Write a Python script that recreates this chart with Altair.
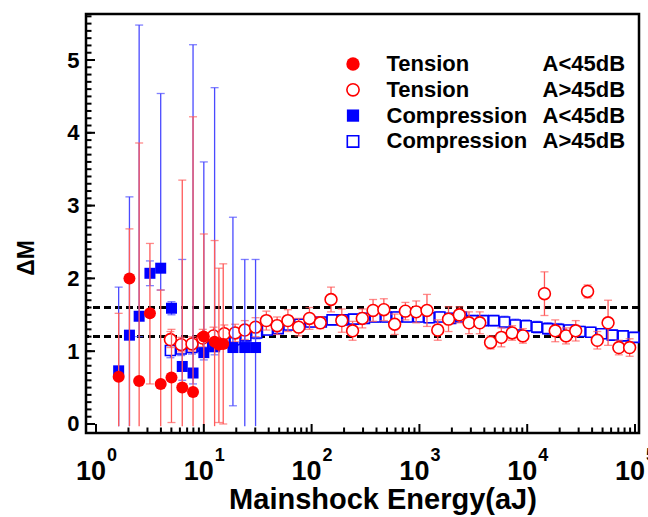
import altair as alt
import pandas as pd
import numpy as np

FONT = "Liberation Sans"

# ---------------- data (log10 of mainshock energy in aJ, Delta M) ----------------
# Tension, A<45dB (filled red circles); lo/hi = error bar ends
tl_logE = [0.21, 0.31, 0.40, 0.50, 0.60, 0.70, 0.80, 0.90, 1.00, 1.10, 1.14, 1.18]
tl_M    = [0.65, 2.00, 0.59, 1.52, 0.55, 0.64, 0.50, 0.44, 1.20, 1.13, 1.09, 1.10]
tl_lo   = [-0.03, -0.03, -0.03, 0.55, -0.03, 0.02, -0.03, -0.03, -0.03, -0.03, 0.02, 0.00]
tl_hi   = [1.52, 2.68, 3.86, 2.48, 1.84, 1.30, 3.35, 4.22, 2.61, 2.52, 2.14, 2.20]

# Compression, A<45dB (filled blue squares)
cl_logE = [0.21, 0.31, 0.40, 0.50, 0.60, 0.70, 0.80, 0.90, 1.00, 1.10, 1.27, 1.38, 1.48]
cl_M    = [0.73, 1.22, 1.48, 2.07, 2.14, 1.59, 0.79, 0.70, 0.98, 1.06, 1.05, 1.05, 1.05]
cl_lo   = [-0.03, -0.03, 1.20, 1.90, 1.84, 1.50, 0.60, 0.55, 0.88, 0.95, 0.25, -0.03, -0.03]
cl_hi   = [1.88, 3.12, 5.48, 2.24, 4.54, 1.68, 2.26, 5.21, 3.60, 4.62, 2.84, 2.26, 2.26]

# Tension, A>45dB (open red circles); err = half length of error bar
th_logE = [0.69, 0.79, 0.89, 0.99, 1.09, 1.19, 1.29, 1.38, 1.48, 1.58, 1.68, 1.78,
           1.88, 1.98, 2.08, 2.18, 2.28, 2.38, 2.47, 2.57, 2.67, 2.77, 2.87, 2.97,
           3.07, 3.17, 3.27, 3.37, 3.46, 3.56, 3.66, 3.76, 3.86, 3.96, 4.16, 4.26,
           4.36, 4.45, 4.56, 4.65, 4.75, 4.85, 4.95]
th_M    = [1.16, 1.09, 1.10, 1.18, 1.21, 1.24, 1.25, 1.29, 1.33, 1.42, 1.35, 1.42,
           1.33, 1.45, 1.39, 1.71, 1.42, 1.28, 1.45, 1.56, 1.57, 1.37, 1.55, 1.54,
           1.56, 1.29, 1.44, 1.50, 1.39, 1.39, 1.12, 1.19, 1.25, 1.21, 1.79, 1.28,
           1.21, 1.28, 1.82, 1.15, 1.39, 1.05, 1.05]
th_err  = [0.11, 0.10, 0.10, 0.12, 0.12, 0.12, 0.12, 0.13, 0.13, 0.13, 0.12, 0.15,
           0.12, 0.15, 0.08, 0.17, 0.16, 0.13, 0.13, 0.15, 0.15, 0.14, 0.12, 0.15,
           0.22, 0.14, 0.17, 0.11, 0.15, 0.15, 0.09, 0.13, 0.10, 0.10, 0.30, 0.15,
           0.11, 0.14, 0.09, 0.12, 0.31, 0.10, 0.12]

# Compression, A>45dB (open blue squares)
ch_logE = [0.69, 0.79, 0.89, 0.99, 1.09, 1.19, 1.29, 1.39, 1.49, 1.59, 1.69, 1.79,
           1.89, 1.99, 2.09, 2.19, 2.29, 2.39, 2.49, 2.59, 2.69, 2.79, 2.89, 2.99,
           3.09, 3.19, 3.29, 3.39, 3.49, 3.59, 3.69, 3.79, 3.89, 3.99, 4.09, 4.19,
           4.29, 4.39, 4.49, 4.59, 4.69, 4.79, 4.89, 4.99]
ch_M    = [1.01, 1.03, 1.05, 1.07, 1.10, 1.13, 1.16, 1.21, 1.25, 1.29, 1.31, 1.36,
           1.37, 1.40, 1.40, 1.43, 1.43, 1.44, 1.45, 1.47, 1.47, 1.47, 1.47, 1.47,
           1.46, 1.47, 1.45, 1.47, 1.42, 1.42, 1.42, 1.40, 1.36, 1.35, 1.33, 1.31,
           1.30, 1.29, 1.27, 1.26, 1.24, 1.22, 1.21, 1.19]
ch_err  = [0.10, 0.09, 0.09, 0.09, 0.08, 0.08, 0.08, 0.08, 0.08, 0.07, 0.07, 0.07,
           0.07, 0.07, 0.07, 0.07, 0.07, 0.07, 0.07, 0.07, 0.07, 0.07, 0.07, 0.07,
           0.07, 0.07, 0.07, 0.07, 0.07, 0.07, 0.07, 0.08, 0.08, 0.08, 0.08, 0.08,
           0.08, 0.07, 0.07, 0.07, 0.07, 0.07, 0.07, 0.07]

ref_lines = [1.2, 1.6]
x_label_exp = [0, 1, 2, 3, 4, 5]
y_ticks_major = [0, 1, 2, 3, 4, 5]

legend_names = ["Tension", "Tension", "Compression", "Compression"]
legend_amp = ["A<45dB", "A>45dB", "A<45dB", "A>45dB"]

# ---------------- frames ----------------
def df_lohi(logE, M, lo, hi):
    return pd.DataFrame({"E": np.power(10.0, logE), "M": M, "lo": lo, "hi": hi})

def df_err(logE, M, err):
    M = np.array(M); err = np.array(err)
    return pd.DataFrame({"E": np.power(10.0, logE), "M": M, "lo": M - err, "hi": M + err})

tl = df_lohi(tl_logE, tl_M, tl_lo, tl_hi)
cl = df_lohi(cl_logE, cl_M, cl_lo, cl_hi)
th = df_err(th_logE, th_M, th_err)
ch = df_err(ch_logE, ch_M, ch_err)

def caps(df):
    up = pd.DataFrame({"E": df["E"], "c": df["hi"]})
    dn = pd.DataFrame({"E": df["E"], "c": df["lo"]})
    dn = dn[dn["c"] >= 0]
    return pd.concat([up, dn], ignore_index=True)

W, H = 553, 419
xs = alt.Scale(type="log", domain=[10 ** -0.093, 10 ** 5.037], nice=False)
ys = alt.Scale(domain=[-0.124, 5.632], nice=False, zero=False)

X = alt.X("E:Q", scale=xs, axis=None)
Y = alt.Y("M:Q", scale=ys,
          axis=alt.Axis(values=y_ticks_major, format="d", domain=False, ticks=False, grid=False,
                        labelFont=FONT, labelFontSize=22, labelFontWeight="bold",
                        labelColor="black", labelPadding=7, title=None))

def errbars(df, color):
    rule = alt.Chart(df).mark_rule(color=color, strokeWidth=1.3).encode(
        x=alt.X("E:Q", scale=xs, axis=None), y=alt.Y("lo:Q", scale=ys), y2="hi:Q")
    cap = alt.Chart(caps(df)).mark_tick(orient="horizontal", color=color, size=8,
                                        thickness=1.3).encode(
        x=alt.X("E:Q", scale=xs, axis=None), y=alt.Y("c:Q", scale=ys))
    return rule + cap

RED_E = "#ff5a5a"
BLUE_E = "#4a4aff"

base = alt.Chart(pd.DataFrame({"M": [0.0]})).mark_point(opacity=0).encode(
    x=alt.value(0), y=Y)

ch_pts = alt.Chart(ch).mark_point(shape="square", size=100, fill="white", fillOpacity=1,
                                  stroke="#0000ff", strokeWidth=1.6, opacity=1).encode(x=X, y=alt.Y("M:Q", scale=ys))
th_pts = alt.Chart(th).mark_point(shape="circle", size=140, fill="white", fillOpacity=1,
                                  stroke="#ff0000", strokeWidth=1.6, opacity=1).encode(x=X, y=alt.Y("M:Q", scale=ys))
cl_pts = alt.Chart(cl).mark_point(shape="square", size=121, filled=True, color="#0000ff",
                                  opacity=1).encode(x=X, y=alt.Y("M:Q", scale=ys))
tl_pts = alt.Chart(tl).mark_point(shape="circle", size=144, filled=True, color="#ff0000",
                                  opacity=1).encode(x=X, y=alt.Y("M:Q", scale=ys))

dash = alt.Chart(pd.DataFrame({"M": ref_lines})).mark_rule(
    color="black", strokeWidth=3, strokeDash=[7, 4]).encode(y=alt.Y("M:Q", scale=ys))

# inward ticks
ymin = pd.DataFrame({"M": [round(v * 0.1, 1) for v in range(0, 57)]})
yminor = alt.Chart(ymin).mark_rule(color="black", strokeWidth=2).encode(
    y=alt.Y("M:Q", scale=ys), x=alt.value(0), x2=alt.value(5.5))
ymajor = alt.Chart(pd.DataFrame({"M": y_ticks_major})).mark_rule(color="black", strokeWidth=2).encode(
    y=alt.Y("M:Q", scale=ys), x=alt.value(0), x2=alt.value(9))
xmin_vals = [m * 10 ** k for k in range(0, 5) for m in range(2, 10)]
xminor = alt.Chart(pd.DataFrame({"E": xmin_vals})).mark_rule(color="black", strokeWidth=2).encode(
    x=X, y=alt.value(H), y2=alt.value(H - 5.5))
xmaj = pd.DataFrame({"E": [10.0 ** k for k in x_label_exp], "p": [str(k) for k in x_label_exp]})
xmajor = alt.Chart(xmaj).mark_rule(color="black", strokeWidth=2).encode(
    x=X, y=alt.value(H), y2=alt.value(H - 9))

# x tick labels 10^k
lab10 = alt.Chart(xmaj).mark_text(text="10", font=FONT, fontSize=27, fontWeight="bold",
                                   align="right", baseline="alphabetic", dx=10, color="black").encode(
    x=X, y=alt.value(H + 47))
labexp = alt.Chart(xmaj).mark_text(font=FONT, fontSize=18, fontWeight="bold",
                                   align="left", baseline="alphabetic", dx=11, color="black").encode(
    x=X, y=alt.value(H + 28), text="p:N")

one = pd.DataFrame({"a": [0]})
xtitle = alt.Chart(one).mark_text(text="Mainshock Energy(aJ)", font=FONT, fontSize=29,
                                  fontWeight="bold", align="center", baseline="alphabetic",
                                  color="black").encode(x=alt.value(297), y=alt.value(H + 76))
ytitle = alt.Chart(one).mark_text(text="ΔM", font=FONT, fontSize=23, fontWeight="bold",
                                  align="center", baseline="middle", angle=270,
                                  color="black").encode(x=alt.value(-59), y=alt.value(244))

# legend
leg_layers = []
lx, ly0, dy = 267, 50, 25.8
sym_specs = [
    dict(shape="circle", size=180, filled=True, color="#ff0000"),
    dict(shape="circle", size=150, fill="white", stroke="#ff0000", strokeWidth=1.6),
    dict(shape="square", size=150, filled=True, color="#0000ff"),
    dict(shape="square", size=130, fill="white", stroke="#0000ff", strokeWidth=1.6),
]
for i in range(4):
    yy = ly0 + dy * i
    leg_layers.append(alt.Chart(one).mark_point(opacity=1, **sym_specs[i]).encode(
        x=alt.value(lx), y=alt.value(yy)))
    leg_layers.append(alt.Chart(one).mark_text(text=legend_names[i], font=FONT, fontSize=22,
                                               fontWeight="bold", align="left", baseline="middle",
                                               color="black").encode(x=alt.value(300.5), y=alt.value(yy)))
    leg_layers.append(alt.Chart(one).mark_text(text=legend_amp[i], font=FONT, fontSize=22,
                                               fontWeight="bold", align="left", baseline="middle",
                                               color="black").encode(x=alt.value(456.5), y=alt.value(yy)))

chart = alt.layer(
    base, dash,
    errbars(ch, BLUE_E), ch_pts,
    errbars(th, RED_E), th_pts,
    errbars(cl, BLUE_E), cl_pts,
    errbars(tl, RED_E), tl_pts,
    yminor, ymajor, xminor, xmajor,
    lab10, labexp, xtitle, ytitle,
    *leg_layers
).properties(
    width=W, height=H,
    autosize=alt.AutoSizeParams(type="none"),
    padding={"left": 86, "top": 14, "right": 9, "bottom": 84},
    background="white",
).configure_view(stroke="black", strokeWidth=2.5)

chart.save("out.html", embed_options={"renderer": "svg", "actions": False})
